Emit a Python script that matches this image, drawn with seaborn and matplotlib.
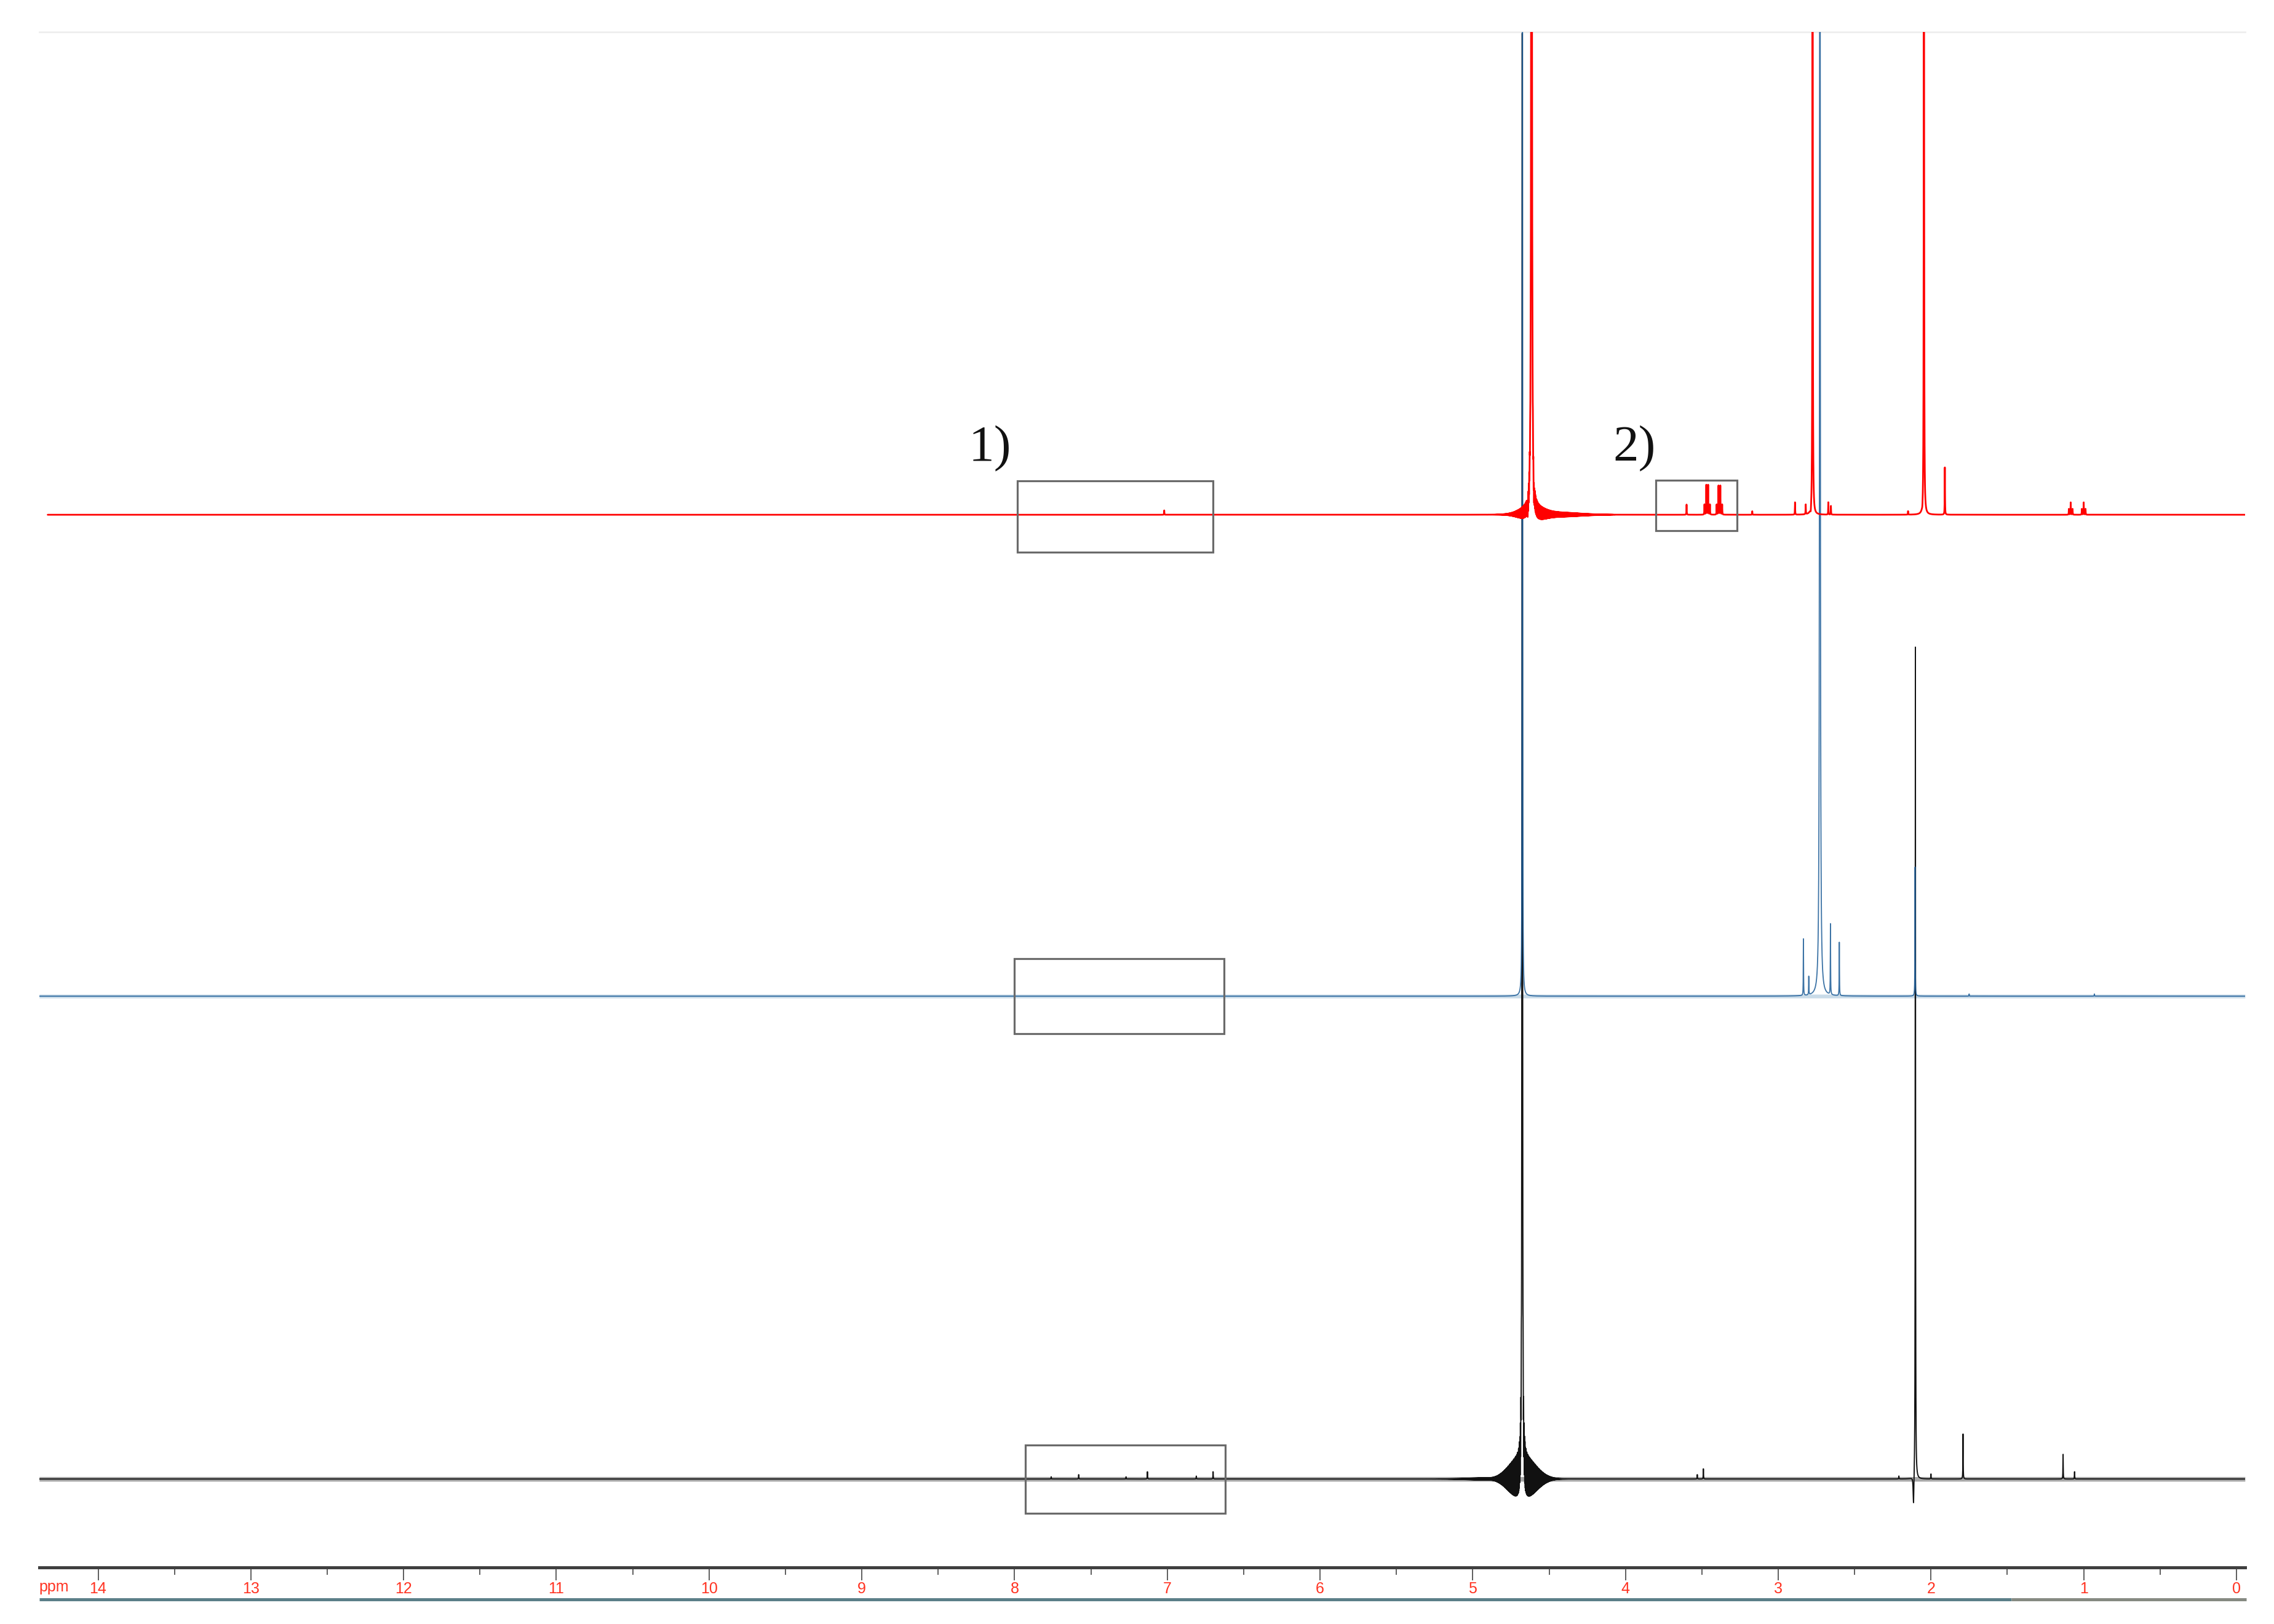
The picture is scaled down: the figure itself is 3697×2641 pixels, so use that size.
import numpy as np
import pandas as pd
import seaborn as sns
import matplotlib
matplotlib.use("Agg")
import matplotlib.pyplot as plt
from matplotlib.patches import Rectangle
from matplotlib.lines import Line2D

# ------------------------------------------------------------------
# Data.  ppm positions, heights in display units
# above each trace's own baseline (values > plot height are clipped).
# ------------------------------------------------------------------
red_ppm = [4.615, 4.600, 4.640, 7.020, 3.600,
           3.483, 3.471, 3.459, 3.447,
           3.403, 3.391, 3.379, 3.367,
           3.170, 2.890, 2.820, 2.775, 2.787, 2.672, 2.655, 2.150,
           2.046, 2.056, 1.909,
           1.097, 1.085, 1.073, 1.012, 1.000, 0.988]
red_height = [900, -8, -5, 3, 7,
              7, 20.5, 20.5, 7,
              7, 20, 20, 7,
              2.4, 8.5, 6.7, 700, -4, 8.5, 6, 2.4,
              700, -3, 32.6,
              4, 8.5, 4, 4, 8.5, 4]
red_width = [0.0025, 0.003, 0.003, 0.001, 0.001,
             0.001, 0.001, 0.001, 0.001,
             0.001, 0.001, 0.001, 0.001,
             0.001, 0.001, 0.001, 0.0012, 0.003, 0.001, 0.001, 0.001,
             0.0012, 0.003, 0.001,
             0.001, 0.001, 0.001, 0.001, 0.001, 0.001]

blue_ppm = [4.675, 2.835, 2.800, 2.727, 2.658, 2.600, 2.104, 1.750, 0.930]
blue_height = [1200, 39, 12.7, 1200, 48.8, 36.8, 89, 1.5, 1.5]
blue_width = [0.0010, 0.0010, 0.0010, 0.0022, 0.0010, 0.0010, 0.0010, 0.0010, 0.0010]

black_ppm = [4.676, 7.760, 7.580, 7.270, 7.130, 6.810, 6.700,
             3.530, 3.490, 2.210, 2.102, 2.114, 2.000, 1.790,
             1.135, 1.060]
black_height = [1500, 1.5, 3, 1.5, 5, 2, 5,
                3, 7, 2, 575, -22, 3.4, 31,
                17, 5]
black_width = [0.0015, 0.001, 0.001, 0.001, 0.001, 0.001, 0.001,
               0.001, 0.001, 0.001, 0.0012, 0.003, 0.001, 0.001,
               0.001, 0.001]

# truncation ringing around the solvent lines: centre, amplitude, spread (ppm)
red_ringing = [(4.615, 5.0, 0.07), (4.45, 1.5, 0.14)]
black_ringing = [(4.676, 16.0, 0.085), (4.86, 1.0, 0.15)]

# baseline noise half-thickness (display units)
noise_band = {"red": 0.0, "blue": 1.3, "black": 1.6}

# trace baselines (display units from bottom axis)
offsets = {"red": 726, "blue": 394, "black": 61}

tick_values = list(range(0, 15))
tick_labels = [str(v) for v in tick_values]

# ------------------------------------------------------------------
x_left, x_right = 14.386, -0.056
grid = np.arange(x_right, x_left, 0.0004)


def lorentz(x, x0, h, g):
    return h * g ** 2 / ((x - x0) ** 2 + g ** 2)


def build(ppm, height, widths, ringing=(), start=x_left):
    x = np.union1d(grid, np.array(ppm))
    x = x[x <= start]
    y = np.zeros_like(x)
    for p, h, g in zip(ppm, height, widths):
        y += lorentz(x, p, h, g)
    for c, a, w in ringing:
        y += a * np.exp(-0.5 * ((x - c) / w) ** 2) * np.cos(2 * np.pi * (x - c) / 0.003)
    return x, y


rx, ry = build(red_ppm, red_height, red_width, ringing=red_ringing, start=14.33)
bx, by = build(blue_ppm, blue_height, blue_width)
kx, ky = build(black_ppm, black_height, black_width, ringing=black_ringing)

df_red = pd.DataFrame({"ppm": rx, "I": ry + offsets["red"]})
df_blue = pd.DataFrame({"ppm": bx, "I": by + offsets["blue"]})
df_black = pd.DataFrame({"ppm": kx, "I": ky + offsets["black"]})

# ------------------------------------------------------------------
sns.set_style("white")
plt.rcParams["font.family"] = ["Liberation Sans", "DejaVu Sans"]

W, H = 3697, 2641
fig = plt.figure(figsize=(W / 100, H / 100), dpi=100)
fig.patch.set_facecolor("white")
ax = fig.add_axes([27 / 1568, 1 - 1081 / 1120, (1548 - 27) / 1568, (1081 - 22) / 1120])
ax.set_facecolor("white")

# noise bands
ax.fill_between(kx, offsets["black"] - noise_band["black"], offsets["black"] + noise_band["black"],
                color="#a8a8a8", lw=0, zorder=1)
ax.fill_between(bx, offsets["blue"] - noise_band["blue"], offsets["blue"] + noise_band["blue"],
                color="#c9dbe8", lw=0, zorder=1)

sns.lineplot(data=df_black, x="ppm", y="I", estimator=None, sort=False, ax=ax,
             color="#111111", lw=1.4, zorder=2)
sns.lineplot(data=df_blue, x="ppm", y="I", estimator=None, sort=False, ax=ax,
             color="#1a5a96", lw=1.3, alpha=0.85, zorder=3)
sns.lineplot(data=df_red, x="ppm", y="I", estimator=None, sort=False, ax=ax,
             color="#ff0000", lw=2.0, zorder=4)

# highlight boxes (ppm left, ppm right, rel. bottom, rel. top, trace)
boxes = [(7.98, 6.70, -26, 23.4, "red"),
         (3.80, 3.27, -11, 24, "red"),
         (8.00, 6.63, -26, 26, "blue"),
         (7.93, 6.62, -23.7, 23.3, "black")]
for x0, x1, b, t, tr in boxes:
    ax.add_patch(Rectangle((x1, offsets[tr] + b), x0 - x1, t - b, fill=False,
                           edgecolor="#6a6a6a", lw=2.3, zorder=5))

for label, xp in [("1)", 8.30), ("2)", 4.08)]:
    ax.text(xp, offsets["red"] + 37, label, fontsize=60, family=["Liberation Serif", "DejaVu Serif"],
            ha="left", va="baseline", color="#111111", zorder=6)

ax.set_xlim(x_left, x_right)
ax.set_ylim(0, 1059)
ax.set_xlabel("")
ax.set_ylabel("")
ax.set_yticks([])
ax.set_xticks(tick_values)
ax.set_xticklabels(tick_labels)
ax.set_xticks(np.arange(0.5, 14.5, 1.0), minor=True)
ax.tick_params(axis="x", which="major", direction="out", length=15, width=1.1,
               color="#333333", pad=1.5, labelsize=18, labelcolor="#ff3322", bottom=True)
ax.tick_params(axis="x", which="minor", direction="out", length=8.5, width=1.1,
               color="#333333", bottom=True)
for t in ax.get_xticklabels():
    t.set_family(["Liberation Sans Narrow", "Liberation Sans", "DejaVu Sans"])

for s in ["left", "right"]:
    ax.spines[s].set_visible(False)
ax.spines["bottom"].set_color("#404040")
ax.spines["bottom"].set_linewidth(3.6)
ax.spines["top"].set_color("#eeeeee")
ax.spines["top"].set_linewidth(2.0)

ax.annotate("ppm", xy=(0, 0), xycoords="axes fraction", xytext=(0, -23),
            textcoords="offset points", ha="left", va="center",
            fontsize=18, color="#ff3322",
            family=["Liberation Sans Narrow", "Liberation Sans", "DejaVu Sans"])

# bottom frame bar
yb = 1 - 2601 / H
fig.add_artist(Line2D([64 / W, 3270 / W], [yb, yb], transform=fig.transFigure,
                      color="#5b7f88", lw=3.6, solid_capstyle="butt"))
fig.add_artist(Line2D([3270 / W, 3652 / W], [yb, yb], transform=fig.transFigure,
                      color="#868a82", lw=3.6, solid_capstyle="butt"))

fig.savefig("out.png", dpi=100, facecolor="white")
